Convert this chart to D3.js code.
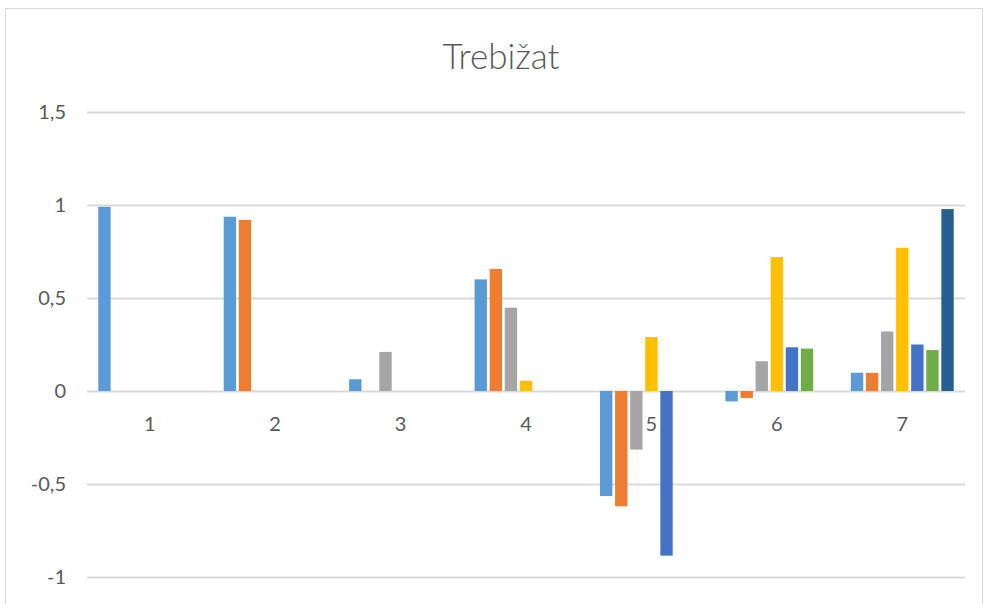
<!DOCTYPE html>
<html>
<head>
<meta charset="utf-8">
<script src="https://cdn.jsdelivr.net/npm/d3@7"></script>
<style>
  body { margin: 0; background: #fff; }
  text { font-family: Lato, "Open Sans", sans-serif; fill: #595959; }
</style>
</head>
<body>
<div id="chart"></div>
<script>
// categories and series
var categories = ["1", "2", "3", "4", "5", "6", "7"];
var seriesNames = ["s1", "s2", "s3", "s4", "s5", "s6", "s7"];
var seriesColors = ["#5b9bd5", "#ed7d31", "#a5a5a5", "#ffc000", "#4472c4", "#70ad47", "#255e91"];

// one array per series, null = no bar
var s1 = [0.99, 0.937, 0.063, 0.60, -0.565, -0.056, 0.098];
var s2 = [null, 0.92, null, 0.656, -0.62, -0.038, 0.098];
var s3 = [null, null, 0.21, 0.448, -0.315, 0.16, 0.32];
var s4 = [null, null, null, 0.055, 0.29, 0.72, 0.77];
var s5 = [null, null, null, null, -0.885, 0.235, 0.25];
var s6 = [null, null, null, null, null, 0.228, 0.22];
var s7 = [null, null, null, null, null, null, 0.978];
var seriesValues = [s1, s2, s3, s4, s5, s6, s7];

var yTicks = [-1, -0.5, 0, 0.5, 1, 1.5];

var W = 984, H = 604;
var margin = {top: 112, left: 87, right: 19, bottom: 27};

var svg = d3.select("#chart").append("svg")
  .attr("width", W)
  .attr("height", H);

// chart frame
svg.append("rect")
  .attr("x", 5.5).attr("y", 8.5)
  .attr("width", 977).attr("height", 620)
  .attr("fill", "none")
  .attr("stroke", "#d9d9d9");

var x0 = d3.scaleBand()
  .domain(categories)
  .range([margin.left, W - margin.right]);

var x1 = d3.scaleBand()
  .domain(seriesNames)
  .range([x0.step() * 0.09, x0.step() * 0.91])
  .paddingInner(0.18);

var y = d3.scaleLinear()
  .domain([-1, 1.5])
  .range([H - margin.bottom, margin.top]);

var fmt = function (d) { return String(d).replace(".", ","); };

// gridlines
svg.append("g")
  .selectAll("line")
  .data(yTicks)
  .join("line")
  .attr("x1", margin.left)
  .attr("x2", W - margin.right)
  .attr("y1", function (d) { return Math.round(y(d)) + 0.5; })
  .attr("y2", function (d) { return Math.round(y(d)) + 0.5; })
  .attr("stroke", "#d9d9d9")
  .attr("stroke-width", 2);

// y tick labels
svg.append("g")
  .selectAll("text")
  .data(yTicks)
  .join("text")
  .attr("x", 66)
  .attr("y", function (d) { return y(d); })
  .attr("dy", "0.35em")
  .attr("text-anchor", "end")
  .attr("font-size", 20)
  .text(fmt);

// bars
var bars = [];
seriesValues.forEach(function (vals, si) {
  vals.forEach(function (v, ci) {
    if (v !== null) bars.push({cat: categories[ci], ser: seriesNames[si], color: seriesColors[si], value: v});
  });
});

svg.append("g")
  .selectAll("rect")
  .data(bars)
  .join("rect")
  .attr("x", function (d) { return x0(d.cat) + x1(d.ser); })
  .attr("width", x1.bandwidth())
  .attr("y", function (d) { return Math.min(y(d.value), y(0)); })
  .attr("height", function (d) { return Math.abs(y(d.value) - y(0)); })
  .attr("fill", function (d) { return d.color; });

// category labels next to zero axis
svg.append("g")
  .selectAll("text")
  .data(categories)
  .join("text")
  .attr("x", function (d) { return x0(d) + x0.bandwidth() / 2; })
  .attr("y", y(0) + 40)
  .attr("text-anchor", "middle")
  .attr("font-size", 20)
  .text(function (d) { return d; });

// title
svg.append("text")
  .attr("x", 501)
  .attr("y", 69)
  .attr("text-anchor", "middle")
  .attr("font-size", 35)
  .attr("font-weight", 300)
  .text("Trebižat");
</script>
</body>
</html>
